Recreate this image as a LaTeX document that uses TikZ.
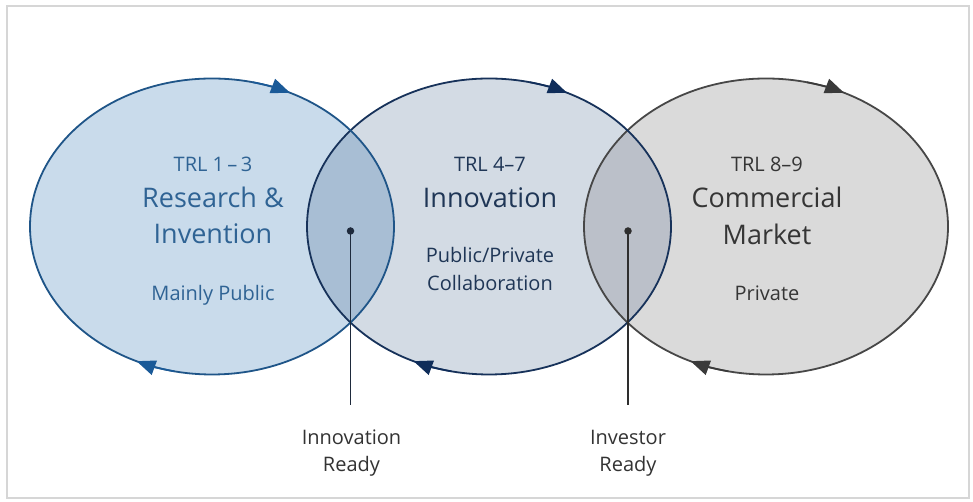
\documentclass[tikz,border=0pt]{standalone}
\usepackage{fontspec}
\setmainfont{Open Sans}
\usetikzlibrary{arrows.meta,calc}

\definecolor{framegrey}{HTML}{D6D6D6}
\definecolor{leftfill}{HTML}{C9DBEB}
\definecolor{leftline}{HTML}{1F5588}
\definecolor{lefttext}{HTML}{2F6394}
\definecolor{leftarrow}{HTML}{1A5A98}
\definecolor{midfill}{HTML}{D3DBE4}
\definecolor{midline}{HTML}{17325A}
\definecolor{midtext}{HTML}{1F3656}
\definecolor{midarrow}{HTML}{0F2D5A}
\definecolor{rightfill}{HTML}{DADADA}
\definecolor{rightline}{HTML}{474747}
\definecolor{righttext}{HTML}{353535}
\definecolor{rightarrow}{HTML}{3A3A3A}
\definecolor{lmfill}{HTML}{A8BED4}
\definecolor{mrfill}{HTML}{BBC0C9}
\definecolor{labeltext}{HTML}{333333}
\definecolor{pinleft}{HTML}{1E2A3C}
\definecolor{pinright}{HTML}{2E2E2E}

\begin{document}
\begin{tikzpicture}[x=1pt,y=1pt,
  oval/.style={x radius=182pt, y radius=148pt},
  ring/.style={line width=1.8pt},
  tip/.style={line width=1.6pt, -{Triangle[length=19pt,width=15pt]}},
  bigtxt/.style={font=\fontsize{27}{31}\selectfont, anchor=base, inner sep=0pt},
  smalltxt/.style={font=\fontsize{20}{24}\selectfont, anchor=base, inner sep=0pt},
  labtxt/.style={font=\fontsize{20}{24}\selectfont, anchor=base, inner sep=0pt, text=labeltext},
  pin/.style={circle, inner sep=0pt, minimum size=7.5pt},
  pinline/.style={line width=1.9pt}]

\useasboundingbox (0,0) rectangle (973,502);
\fill[white] (0,0) rectangle (973,502);
\draw[framegrey, line width=1.5pt] (7,4) rectangle (969,496);

% centres of the three stages
\coordinate (L) at (212,275.5);
\coordinate (M) at (489,275.5);
\coordinate (R) at (766,275.5);

% fills
\fill[leftfill]  (L) ellipse[oval];
\fill[midfill]   (M) ellipse[oval];
\fill[rightfill] (R) ellipse[oval];
\begin{scope}
  \clip (L) ellipse[oval];
  \fill[lmfill] (M) ellipse[oval];
\end{scope}
\begin{scope}
  \clip (M) ellipse[oval];
  \fill[mrfill] (R) ellipse[oval];
\end{scope}

% outlines
\draw[ring, rightline] (R) ellipse[oval];
\draw[ring, midline]   (M) ellipse[oval];
\draw[ring, leftline]  (L) ellipse[oval];

% clockwise direction marks
\foreach \c/\col in {L/leftarrow, M/midarrow, R/rightarrow}{
  \draw[tip, \col] ($(\c)+(77:182pt and 148pt)$) arc[start angle=77, end angle=64.6, oval];
  \draw[tip, \col] ($(\c)+(258:182pt and 148pt)$) arc[start angle=258, end angle=245.5, oval];
}

% stage texts
\node[smalltxt, text=lefttext] (l1) at (213,330) {TRL 1\,–\,3};
\node[bigtxt, text=lefttext]   (l2) at (213,294) {Research \&};
\node[bigtxt, text=lefttext]   (l3) at (213,258) {Invention};
\node[smalltxt, text=lefttext] (l4) at (213,201.3) {Mainly Public};

\node[smalltxt, text=midtext] (m1) at (490,330) {TRL 4–7};
\node[bigtxt, text=midtext]   (m2) at (490,294) {Innovation};
\node[smalltxt, text=midtext] (m3) at (490,239) {Public/Private};
\node[smalltxt, text=midtext] (m4) at (490,211.3) {Collaboration};

\node[smalltxt, text=righttext] (r1) at (767,330) {TRL 8–9};
\node[bigtxt, text=righttext]   (r2) at (767,294) {Commercial};
\node[bigtxt, text=righttext]   (r3) at (767,257) {Market};
\node[smalltxt, text=righttext] (r4) at (767,201.3) {Private};

% readiness pins
\node[pin, fill=pinleft]  (p1) at (350.5,271) {};
\node[pin, fill=pinright] (p2) at (628,271) {};
\coordinate (e1) at (350.5,97);
\coordinate (e2) at (628,97);
\draw[pinline, pinleft]  (p1.center) -- (e1);
\draw[pinline, pinright] (p2.center) -- (e2);

\node[labtxt] (a1) at (351.5,57.7) {Innovation};
\node[labtxt] (a2) at (351.5,30.3) {Ready};
\node[labtxt] (b1) at (628,57.7) {Investor};
\node[labtxt] (b2) at (628,30.3) {Ready};
\end{tikzpicture}
\end{document}
